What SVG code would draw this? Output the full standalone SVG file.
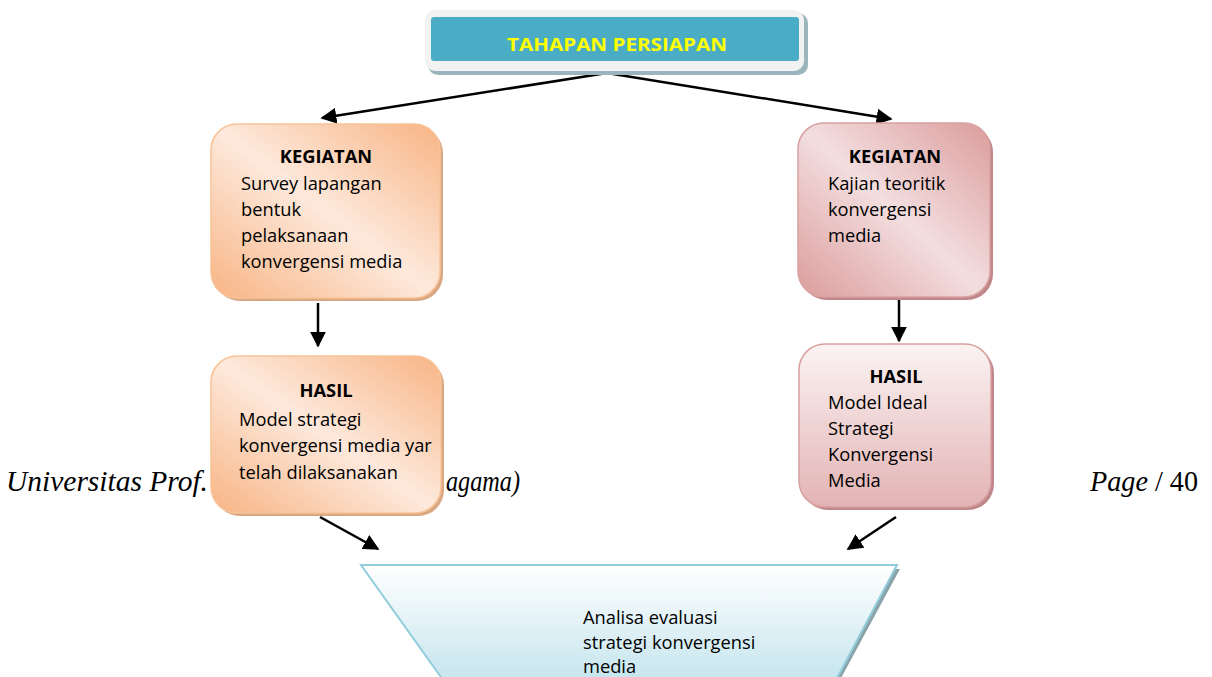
<svg xmlns="http://www.w3.org/2000/svg" width="1212" height="677" viewBox="0 0 1212 677">
<style>
.t{font-family:"Open Sans","Liberation Sans",sans-serif;font-size:18.3px;fill:#000}
.b{font-weight:bold}
.foot{font-family:"Liberation Serif",serif;font-size:29px;fill:#000}
</style>
<defs>
<linearGradient id="og" x1="0" y1="1" x2="1" y2="0">
<stop offset="0" stop-color="#F8B484"/>
<stop offset="0.5" stop-color="#FDE9DC"/>
<stop offset="1" stop-color="#F8B484"/>
</linearGradient>
<linearGradient id="pg" x1="0" y1="1" x2="1" y2="0">
<stop offset="0" stop-color="#DC9C9C"/>
<stop offset="0.5" stop-color="#F3DEDF"/>
<stop offset="1" stop-color="#DC9C9C"/>
</linearGradient>
<linearGradient id="pg2" x1="0" y1="0" x2="0" y2="1">
<stop offset="0" stop-color="#FBF3F3"/>
<stop offset="1" stop-color="#E3B3B4"/>
</linearGradient>
<linearGradient id="bg" x1="0" y1="0" x2="0" y2="1">
<stop offset="0" stop-color="#FFFFFF"/>
<stop offset="1" stop-color="#C6E5EE"/>
</linearGradient>
<marker id="ah2" viewBox="0 0 10 10" refX="9" refY="5" markerWidth="16" markerHeight="16" markerUnits="userSpaceOnUse" orient="auto">
<path d="M0,0 L10,5 L0,10 z" fill="#000"/>
</marker>
</defs>
<rect width="1212" height="677" fill="#fff"/>

<g id="footer">
<text class="foot" x="6" y="491" font-style="italic" textLength="202" lengthAdjust="spacingAndGlyphs">Universitas Prof.</text>
<text class="foot" x="446" y="491" font-style="italic" textLength="74" lengthAdjust="spacingAndGlyphs">agama)</text>
<text class="foot" x="1090" y="491" textLength="108" lengthAdjust="spacingAndGlyphs"><tspan font-style="italic">Page</tspan> / 40</text>
</g>

<g id="connectors" stroke="#000" stroke-width="2.5" fill="none">
<line x1="607" y1="73" x2="322" y2="118" marker-end="url(#ah2)"/>
<line x1="607" y1="73" x2="891" y2="119" marker-end="url(#ah2)"/>
<line x1="318" y1="303" x2="318" y2="346" marker-end="url(#ah2)"/>
<line x1="899" y1="300" x2="899" y2="341" marker-end="url(#ah2)"/>
<line x1="320" y1="517" x2="378" y2="549" marker-end="url(#ah2)"/>
<line x1="896" y1="517" x2="848" y2="549" marker-end="url(#ah2)"/>
</g>

<g id="top">
<rect x="428" y="13" width="380" height="62" rx="10" fill="#9BB5BD"/>
<rect x="425" y="10" width="379" height="61" rx="10" fill="#F2F2F2"/>
<rect x="431" y="17" width="368" height="44" rx="3" fill="#4BACC6"/>
<text x="617" y="51" text-anchor="middle" font-family="Open Sans,Liberation Sans,sans-serif" font-size="17" font-weight="bold" fill="#FFFF00" textLength="220" lengthAdjust="spacingAndGlyphs">TAHAPAN PERSIAPAN</text>
</g>

<g id="kegiatan1">
<rect x="214" y="127" width="229" height="174" rx="26" fill="#D9A883"/>
<rect x="211" y="124" width="229" height="174" rx="26" fill="url(#og)" stroke="#F8C398" stroke-width="1.5"/>
<text class="t b" x="326" y="163" text-anchor="middle">KEGIATAN</text>
<text class="t" x="241" y="190">Survey lapangan</text>
<text class="t" x="241" y="216">bentuk</text>
<text class="t" x="241" y="242">pelaksanaan</text>
<text class="t" x="241" y="268">konvergensi media</text>
</g>

<g id="kegiatan2">
<rect x="801" y="126" width="192" height="174" rx="26" fill="#C0878A"/>
<rect x="798" y="123" width="192" height="174" rx="26" fill="url(#pg)" stroke="#D9A0A0" stroke-width="1.5"/>
<text class="t b" x="895" y="163" text-anchor="middle">KEGIATAN</text>
<text class="t" x="828" y="190">Kajian teoritik</text>
<text class="t" x="828" y="216">konvergensi</text>
<text class="t" x="828" y="242">media</text>
</g>

<g id="hasil1">
<rect x="214" y="359" width="230" height="157" rx="26" fill="#D9A883"/>
<rect x="211" y="356" width="230" height="157" rx="26" fill="url(#og)" stroke="#F8C398" stroke-width="1.5"/>
<text class="t b" x="326" y="397" text-anchor="middle">HASIL</text>
<text class="t" x="239" y="426">Model strategi</text>
<text class="t" x="239" y="452">konvergensi media yar</text>
<text class="t" x="239" y="479">telah dilaksanakan</text>
</g>

<g id="hasil2">
<rect x="802" y="347" width="192" height="163" rx="26" fill="#C0878A"/>
<rect x="799" y="344" width="192" height="163" rx="26" fill="url(#pg2)" stroke="#D9A0A0" stroke-width="1.5"/>
<text class="t b" x="896" y="383" text-anchor="middle">HASIL</text>
<text class="t" x="828" y="409">Model Ideal</text>
<text class="t" x="828" y="435">Strategi</text>
<text class="t" x="828" y="461">Konvergensi</text>
<text class="t" x="828" y="487">Media</text>
</g>

<g id="analisa">
<polygon points="900,569 840,680 450,680 364,569" fill="#8AA3AA"/>
<polygon points="361,565 897,565 836,680 443,680" fill="url(#bg)" stroke="#92CDDC" stroke-width="2"/>
<text class="t" x="583" y="624">Analisa evaluasi</text>
<text class="t" x="583" y="649">strategi konvergensi</text>
<text class="t" x="583" y="673">media</text>
</g>
</svg>
